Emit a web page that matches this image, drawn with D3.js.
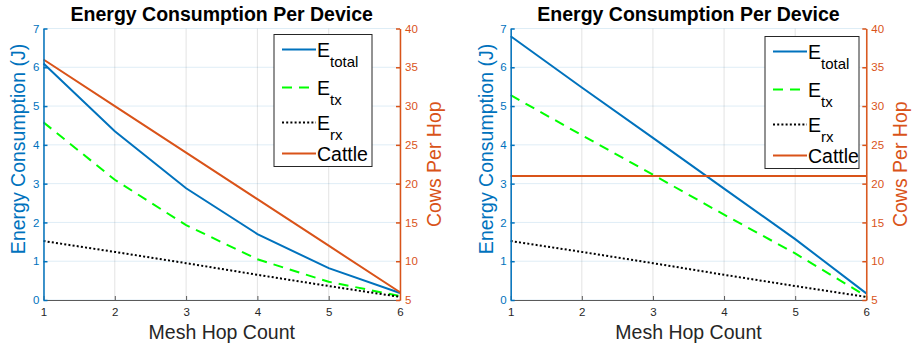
<!DOCTYPE html>
<html>
<head>
<meta charset="utf-8">
<script src="https://cdn.jsdelivr.net/npm/d3@7"></script>
<style>
  body { margin: 0; background: #fff; }
  svg text { font-family: "Liberation Sans", Arial, Helvetica, sans-serif; }
</style>
</head>
<body>
<script>
// chart values
var hops = [1, 2, 3, 4, 5, 6];
var energyTicks = [0, 1, 2, 3, 4, 5, 6, 7];
var cowTicks = [5, 10, 15, 20, 25, 30, 35, 40];

var leftTotal  = [6.10, 4.35, 2.88, 1.70, 0.82, 0.18];
var leftTx     = [4.58, 3.10, 1.93, 1.05, 0.47, 0.10];
var leftRx     = [1.52, 1.24, 0.95, 0.65, 0.36, 0.08];
var leftCattle = [36, 30, 24, 18, 12, 6];

var rightTotal  = [6.80, 5.48, 4.18, 2.87, 1.57, 0.17];
var rightTx     = [5.28, 4.25, 3.23, 2.20, 1.20, 0.10];
var rightRx     = [1.52, 1.24, 0.95, 0.65, 0.36, 0.08];
var rightCattle = [21, 21, 21, 21, 21, 21];

var w = 913, h = 347;
var blue = "#0072BD", orange = "#D95319", green = "#00FF00", dark = "#262626";
var fmt = d3.format("d");

var svg = d3.select("body").append("svg")
    .attr("width", w)
    .attr("height", h);

// one panel = one axes box with two y axes
function drawPanel(p) {
    var x = d3.scaleLinear().domain([1, 6]).range([p.left, p.right]);
    var yL = d3.scaleLinear().domain([0, 7]).range([p.bottom, p.top]);
    var yR = d3.scaleLinear().domain([5, 40]).range([p.bottom, p.top]);

    var g = svg.append("g").attr("class", "panel");

    // grid
    g.selectAll(".vgrid").data(hops).enter().append("line")
        .attr("x1", function(d){ return x(d); })
        .attr("x2", function(d){ return x(d); })
        .attr("y1", p.top).attr("y2", p.bottom)
        .style("stroke", "rgba(38,38,38,0.13)");
    g.selectAll(".hgrid").data(energyTicks).enter().append("line")
        .attr("x1", p.left).attr("x2", p.right)
        .attr("y1", function(d){ return yL(d); })
        .attr("y2", function(d){ return yL(d); })
        .style("stroke", "rgba(0,114,189,0.13)");

    // series
    var series = [
        {name: "total", vals: p.total, scale: yL, color: blue, dash: null},
        {name: "tx", vals: p.tx, scale: yL, color: green, dash: "10,7"},
        {name: "rx", vals: p.rx, scale: yL, color: "#000", dash: "2,2.2"},
        {name: "Cattle", vals: p.cattle, scale: yR, color: orange, dash: null}
    ];
    series.forEach(function(s) {
        var line = d3.line()
            .x(function(d, i){ return x(hops[i]); })
            .y(function(d){ return s.scale(d); });
        g.append("path")
            .datum(s.vals)
            .attr("d", line)
            .style("fill", "none")
            .style("stroke", s.color)
            .style("stroke-width", 2)
            .style("stroke-dasharray", s.dash);
    });

    // axes
    var ax = g.append("g")
        .attr("transform", "translate(0," + p.bottom + ")")
        .call(d3.axisBottom(x).tickValues(hops).tickFormat(fmt).tickSizeInner(-4).tickSizeOuter(0).tickPadding(8));
    ax.selectAll("path, line").style("stroke", "#5a5a5a");
    ax.selectAll("text").style("fill", dark).style("font-size", "11.5px");

    var al = g.append("g")
        .attr("transform", "translate(" + p.left + ",0)")
        .call(d3.axisLeft(yL).tickValues(energyTicks).tickFormat(fmt).tickSizeInner(-4).tickSizeOuter(0).tickPadding(4));
    al.selectAll("path, line").style("stroke", blue).style("stroke-width", 1.5);
    al.selectAll("text").style("fill", blue).style("font-size", "11.5px");

    var ar = g.append("g")
        .attr("transform", "translate(" + p.right + ",0)")
        .call(d3.axisRight(yR).tickValues(cowTicks).tickFormat(fmt).tickSizeInner(-4).tickSizeOuter(0).tickPadding(5));
    ar.selectAll("path, line").style("stroke", orange).style("stroke-width", 1.5);
    ar.selectAll("text").style("fill", orange).style("font-size", "11.5px");

    // labels
    var mid = (p.left + p.right) / 2;
    g.append("text")
        .attr("x", mid).attr("y", 21)
        .attr("text-anchor", "middle")
        .style("font-size", "19.5px").style("font-weight", "bold").style("fill", "#000")
        .text("Energy Consumption Per Device");
    g.append("text")
        .attr("x", mid).attr("y", 338.5)
        .attr("text-anchor", "middle")
        .style("font-size", "19.5px").style("fill", dark)
        .text("Mesh Hop Count");
    g.append("text")
        .attr("transform", "translate(" + p.ylabX + ",149) rotate(-90)")
        .attr("text-anchor", "middle")
        .style("font-size", "19.5px").style("fill", blue)
        .text("Energy Consumption (J)");
    g.append("text")
        .attr("transform", "translate(" + p.y2labX + "," + ((p.top + p.bottom) / 2) + ") rotate(-90)")
        .attr("text-anchor", "middle")
        .style("font-size", "19.5px").style("fill", orange)
        .text("Cows Per Hop");

    // legend
    var lg = g.append("g").attr("transform", "translate(" + p.legX + "," + p.legY + ")");
    lg.append("rect")
        .attr("width", p.legW).attr("height", 132)
        .style("fill", "#fff").style("stroke", dark).style("stroke-width", 1);
    var rowY = [15, 53, 88, 119];
    var subs = ["total", "tx", "rx", null];
    series.forEach(function(s, i) {
        lg.append("line")
            .attr("x1", 8).attr("x2", 42)
            .attr("y1", rowY[i]).attr("y2", rowY[i])
            .style("stroke", s.color).style("stroke-width", 2)
            .style("stroke-dasharray", s.dash);
        var t = lg.append("text")
            .attr("x", 43).attr("y", rowY[i] + 7)
            .style("font-size", "19.5px").style("fill", "#000");
        if (subs[i]) {
            t.append("tspan").text("E");
            t.append("tspan").attr("dy", 10).style("font-size", "15px").text(subs[i]);
        } else {
            t.text("Cattle");
        }
    });
}

drawPanel({left: 43.5, right: 400, top: 28.5, bottom: 300,
    total: leftTotal, tx: leftTx, rx: leftRx, cattle: leftCattle,
    ylabX: 25, y2labX: 441, legX: 274, legY: 34.5, legW: 98});
drawPanel({left: 510.7, right: 866.3, top: 28.5, bottom: 300,
    total: rightTotal, tx: rightTx, rx: rightRx, cattle: rightCattle,
    ylabX: 493, y2labX: 907, legX: 765, legY: 36.5, legW: 94});
</script>
</body>
</html>
